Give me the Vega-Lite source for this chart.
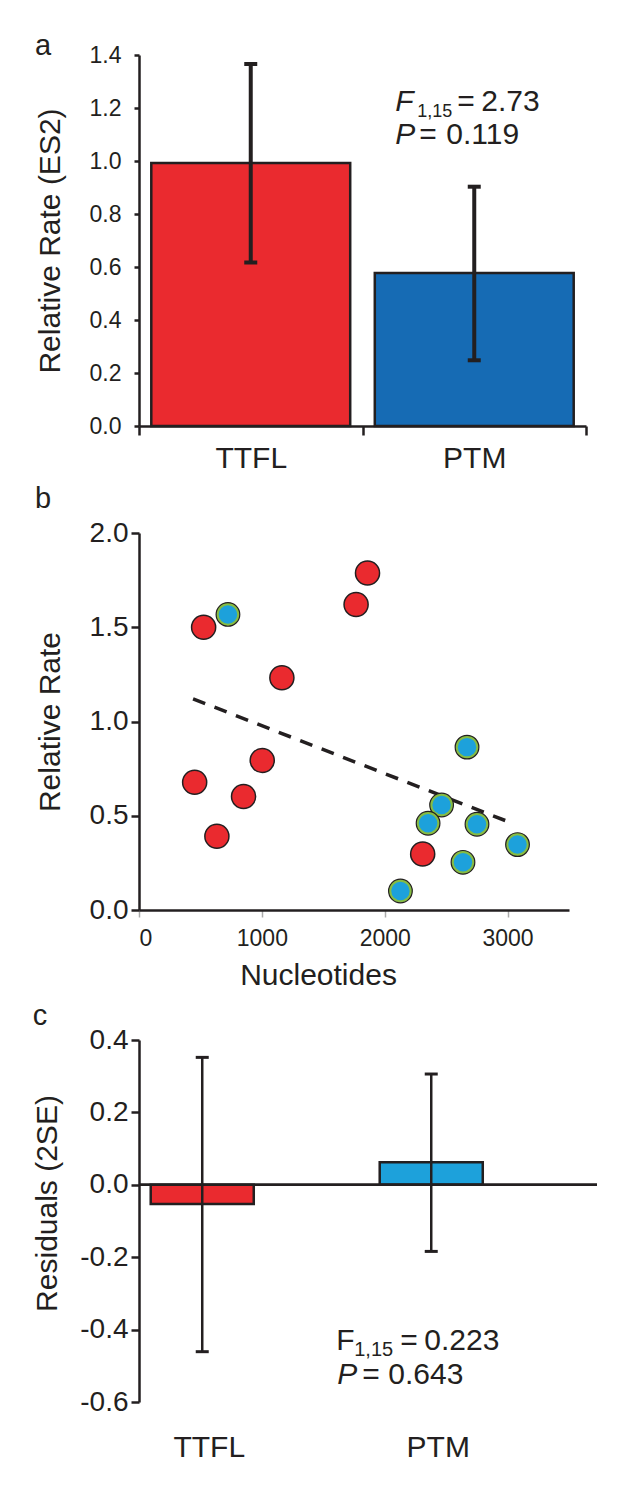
{
  "$schema": "https://vega.github.io/schema/vega-lite/v6.json",
  "background": "white",
  "padding": {"left": 32, "top": 32, "right": 0, "bottom": 0},
  "config": {
    "font": "Liberation Sans",
    "view": {"stroke": null},
    "axis": {"grid": false, "domainColor": "#231f20", "tickColor": "#231f20", "labelColor": "#231f20", "titleColor": "#231f20", "titleFontWeight": "normal", "domainWidth": 2.5, "tickWidth": 2.5},
    "title": {"fontWeight": "normal", "color": "#231f20"}
  },
  "datasets": {
    "rates": [
      {"group": "TTFL", "rate": 0.992, "lower": 0.617, "upper": 1.366},
      {"group": "PTM", "rate": 0.577, "lower": 0.248, "upper": 0.903}
    ],
    "points": [
      {"nucleotides": 526, "rate": 1.50, "group": "TTFL"},
      {"nucleotides": 1163, "rate": 1.232, "group": "TTFL"},
      {"nucleotides": 1767, "rate": 1.621, "group": "TTFL"},
      {"nucleotides": 1860, "rate": 1.788, "group": "TTFL"},
      {"nucleotides": 453, "rate": 0.678, "group": "TTFL"},
      {"nucleotides": 1003, "rate": 0.793, "group": "TTFL"},
      {"nucleotides": 851, "rate": 0.602, "group": "TTFL"},
      {"nucleotides": 634, "rate": 0.391, "group": "TTFL"},
      {"nucleotides": 2309, "rate": 0.297, "group": "TTFL"},
      {"nucleotides": 724, "rate": 1.568, "group": "PTM"},
      {"nucleotides": 2670, "rate": 0.864, "group": "PTM"},
      {"nucleotides": 2463, "rate": 0.557, "group": "PTM"},
      {"nucleotides": 2353, "rate": 0.460, "group": "PTM"},
      {"nucleotides": 2751, "rate": 0.455, "group": "PTM"},
      {"nucleotides": 3081, "rate": 0.347, "group": "PTM"},
      {"nucleotides": 2637, "rate": 0.253, "group": "PTM"},
      {"nucleotides": 2128, "rate": 0.101, "group": "PTM"}
    ],
    "fit": [
      {"nucleotides": 440, "rate": 1.12},
      {"nucleotides": 3031, "rate": 0.462}
    ],
    "residuals": [
      {"group": "TTFL", "resid": -0.053, "lower": -0.461, "upper": 0.352},
      {"group": "PTM", "resid": 0.062, "lower": -0.184, "upper": 0.306}
    ]
  },
  "resolve": {"scale": {"color": "independent"}},
  "spacing": 12,
  "vconcat": [
    {
      "width": 447,
      "height": 371,
      "title": {"text": "a", "anchor": "start", "frame": "bounds", "fontSize": 29, "offset": -17},
      "data": {"name": "rates"},
      "encoding": {
        "x": {"field": "group", "type": "nominal", "sort": ["TTFL", "PTM"],
          "scale": {"paddingInner": 0, "paddingOuter": 0},
          "axis": {"title": null, "labelAngle": 0, "tickBand": "extent", "tickSize": 9, "labelFontSize": 30, "labelPadding": 8}}
      },
      "layer": [
        {
          "mark": {"type": "bar", "width": {"band": 0.89}, "stroke": "#231f20", "strokeWidth": 2.5},
          "encoding": {
            "y": {"field": "rate", "type": "quantitative", "scale": {"domain": [0, 1.4], "nice": false},
              "axis": {"title": "Relative Rate (ES2)", "values": [0, 0.2, 0.4, 0.6, 0.8, 1.0, 1.2, 1.4], "format": ".1f", "tickSize": 5, "labelPadding": 13, "labelFontSize": 23, "titleFontSize": 30, "titlePadding": 24}},
            "color": {"field": "group", "type": "nominal", "scale": {"domain": ["TTFL", "PTM"], "range": ["#EA2A2F", "#166BB4"]}, "legend": null}
          }
        },
        {
          "mark": {"type": "rule", "strokeWidth": 4, "color": "#231f20"},
          "encoding": {"y": {"field": "lower", "type": "quantitative"}, "y2": {"field": "upper"}}
        },
        {
          "mark": {"type": "tick", "size": 13, "thickness": 4, "color": "#231f20", "opacity": 1},
          "encoding": {"y": {"field": "upper", "type": "quantitative"}}
        },
        {
          "mark": {"type": "tick", "size": 13, "thickness": 4, "color": "#231f20", "opacity": 1},
          "encoding": {"y": {"field": "lower", "type": "quantitative"}}
        },
        {
          "data": {"values": [{}]},
          "mark": {"type": "text", "text": "F", "fontStyle": "italic", "fontSize": 30, "align": "left", "baseline": "alphabetic", "dx": -79, "color": "#231f20"},
          "encoding": {"x": {"datum": "PTM"}, "y": {"datum": 1.19}}
        },
        {
          "data": {"values": [{}]},
          "mark": {"type": "text", "text": "1,15", "fontSize": 18, "align": "left", "baseline": "alphabetic", "dx": -57, "dy": 6, "color": "#231f20"},
          "encoding": {"x": {"datum": "PTM"}, "y": {"datum": 1.19}}
        },
        {
          "data": {"values": [{}]},
          "mark": {"type": "text", "text": "=", "fontSize": 30, "align": "left", "baseline": "alphabetic", "dx": -17, "color": "#231f20"},
          "encoding": {"x": {"datum": "PTM"}, "y": {"datum": 1.19}}
        },
        {
          "data": {"values": [{}]},
          "mark": {"type": "text", "text": "2.73", "fontSize": 30, "align": "left", "baseline": "alphabetic", "dx": 7, "color": "#231f20"},
          "encoding": {"x": {"datum": "PTM"}, "y": {"datum": 1.19}}
        },
        {
          "data": {"values": [{}]},
          "mark": {"type": "text", "text": "P", "fontStyle": "italic", "fontSize": 30, "align": "left", "baseline": "alphabetic", "dx": -79, "color": "#231f20"},
          "encoding": {"x": {"datum": "PTM"}, "y": {"datum": 1.064}}
        },
        {
          "data": {"values": [{}]},
          "mark": {"type": "text", "text": "=", "fontSize": 30, "align": "left", "baseline": "alphabetic", "dx": -55, "color": "#231f20"},
          "encoding": {"x": {"datum": "PTM"}, "y": {"datum": 1.064}}
        },
        {
          "data": {"values": [{}]},
          "mark": {"type": "text", "text": "0.119", "fontSize": 30, "align": "left", "baseline": "alphabetic", "dx": -28, "color": "#231f20"},
          "encoding": {"x": {"datum": "PTM"}, "y": {"datum": 1.064}}
        }
      ]
    },
    {
      "width": 430,
      "height": 377,
      "title": {"text": "b", "anchor": "start", "frame": "bounds", "fontSize": 29, "offset": 5},
      "encoding": {
        "x": {"field": "nucleotides", "type": "quantitative", "scale": {"domain": [0, 3500], "nice": false},
          "axis": {"title": "Nucleotides", "titleX": 179, "values": [0, 1000, 2000, 3000], "format": "d", "tickColor": "#aaaaaa", "tickWidth": 1.5, "tickSize": 7, "labelFontSize": 23, "labelPadding": 10, "titleFontSize": 30, "titlePadding": 10}},
        "y": {"field": "rate", "type": "quantitative", "scale": {"domain": [0, 2], "nice": false},
          "axis": {"title": "Relative Rate", "values": [0, 0.5, 1, 1.5, 2], "format": ".1f", "tickSize": 8, "labelPadding": 3, "labelFontSize": 28, "titleFontSize": 30, "titlePadding": 24}}
      },
      "layer": [
        {
          "data": {"name": "fit"},
          "mark": {"type": "line", "strokeDash": [13, 10], "strokeWidth": 3.5, "color": "#231f20"}
        },
        {
          "data": {"name": "points"},
          "transform": [{"filter": "datum.group == 'TTFL'"}],
          "mark": {"type": "point", "shape": "circle", "filled": true, "size": 580, "fill": "#EA2A2F", "stroke": "#231f20", "strokeWidth": 1.5, "opacity": 1}
        },
        {
          "data": {"name": "points"},
          "transform": [{"filter": "datum.group == 'PTM'"}],
          "mark": {"type": "point", "shape": "circle", "filled": true, "size": 560, "fill": "#86BC43", "stroke": "#231f20", "strokeWidth": 1.2, "opacity": 1}
        },
        {
          "data": {"name": "points"},
          "transform": [{"filter": "datum.group == 'PTM'"}],
          "mark": {"type": "point", "shape": "circle", "filled": true, "size": 340, "fill": "#1DA1DB", "opacity": 1}
        },
        {
          "data": {"values": [{}]},
          "mark": {"type": "text", "text": "r", "fontStyle": "italic", "fontSize": 30, "align": "left", "baseline": "alphabetic", "color": "#231f20"},
          "encoding": {"x": {"datum": 2203}, "y": {"datum": 1.336}}
        },
        {
          "data": {"values": [{}]},
          "mark": {"type": "text", "text": "2", "fontSize": 18, "align": "left", "baseline": "alphabetic", "color": "#231f20"},
          "encoding": {"x": {"datum": 2299}, "y": {"datum": 1.389}}
        },
        {
          "data": {"values": [{}]},
          "mark": {"type": "text", "text": "=", "fontSize": 30, "align": "left", "baseline": "alphabetic", "color": "#231f20"},
          "encoding": {"x": {"datum": 2360}, "y": {"datum": 1.336}}
        },
        {
          "data": {"values": [{}]},
          "mark": {"type": "text", "text": "0.176;", "fontSize": 30, "align": "left", "baseline": "alphabetic", "color": "#231f20"},
          "encoding": {"x": {"datum": 2620}, "y": {"datum": 1.336}}
        },
        {
          "data": {"values": [{}]},
          "mark": {"type": "text", "text": "P", "fontStyle": "italic", "fontSize": 30, "align": "left", "baseline": "alphabetic", "color": "#231f20"},
          "encoding": {"x": {"datum": 2203}, "y": {"datum": 1.159}}
        },
        {
          "data": {"values": [{}]},
          "mark": {"type": "text", "text": "=", "fontSize": 30, "align": "left", "baseline": "alphabetic", "color": "#231f20"},
          "encoding": {"x": {"datum": 2421}, "y": {"datum": 1.159}}
        },
        {
          "data": {"values": [{}]},
          "mark": {"type": "text", "text": "0.093", "fontSize": 30, "align": "left", "baseline": "alphabetic", "color": "#231f20"},
          "encoding": {"x": {"datum": 2630}, "y": {"datum": 1.159}}
        }
      ]
    },
    {
      "width": 458,
      "height": 362,
      "title": {"text": "c", "anchor": "start", "frame": "bounds", "fontSize": 29, "offset": -5},
      "data": {"name": "residuals"},
      "encoding": {
        "x": {"field": "group", "type": "nominal", "sort": ["TTFL", "PTM"],
          "scale": {"paddingInner": 0.55, "paddingOuter": 0.275, "align": 0.093},
          "axis": {"title": null, "labelAngle": 0, "domain": false, "ticks": false, "labelFontSize": 30, "labelPadding": 30, "labelOffset": 7}}
      },
      "layer": [
        {
          "mark": {"type": "bar", "stroke": "#231f20", "strokeWidth": 2.5},
          "encoding": {
            "y": {"field": "resid", "type": "quantitative", "scale": {"domain": [-0.6, 0.4], "nice": false, "zero": false},
              "axis": {"title": "Residuals (2SE)", "values": [-0.6, -0.4, -0.2, 0, 0.2, 0.4], "labelExpr": "replace(format(datum.value, '.1f'), '\u2212', '-')", "tickSize": 8, "labelPadding": 3, "labelFontSize": 28, "titleFontSize": 30, "titlePadding": 17, "titleY": 163}},
            "y2": {"datum": 0},
            "color": {"field": "group", "type": "nominal", "scale": {"domain": ["TTFL", "PTM"], "range": ["#EA2A2F", "#1DA1DB"]}, "legend": null}
          }
        },
        {
          "mark": {"type": "rule", "strokeWidth": 2.5, "color": "#231f20"},
          "encoding": {"y": {"datum": 0}, "x": null}
        },
        {
          "mark": {"type": "rule", "strokeWidth": 2.5, "color": "#231f20"},
          "encoding": {"y": {"field": "lower", "type": "quantitative"}, "y2": {"field": "upper"}}
        },
        {
          "mark": {"type": "tick", "size": 13, "thickness": 3, "color": "#231f20", "opacity": 1},
          "encoding": {"y": {"field": "upper", "type": "quantitative"}}
        },
        {
          "mark": {"type": "tick", "size": 13, "thickness": 3, "color": "#231f20", "opacity": 1},
          "encoding": {"y": {"field": "lower", "type": "quantitative"}}
        },
        {
          "data": {"values": [{}]},
          "mark": {"type": "text", "text": "F", "fontSize": 30, "align": "left", "baseline": "alphabetic", "dx": -95, "color": "#231f20"},
          "encoding": {"x": {"datum": "PTM"}, "y": {"datum": -0.456}}
        },
        {
          "data": {"values": [{}]},
          "mark": {"type": "text", "text": "1,15", "fontSize": 20, "align": "left", "baseline": "alphabetic", "dx": -77, "dy": 6, "color": "#231f20"},
          "encoding": {"x": {"datum": "PTM"}, "y": {"datum": -0.456}}
        },
        {
          "data": {"values": [{}]},
          "mark": {"type": "text", "text": "=", "fontSize": 30, "align": "left", "baseline": "alphabetic", "dx": -31, "color": "#231f20"},
          "encoding": {"x": {"datum": "PTM"}, "y": {"datum": -0.456}}
        },
        {
          "data": {"values": [{}]},
          "mark": {"type": "text", "text": "0.223", "fontSize": 30, "align": "left", "baseline": "alphabetic", "dx": -7, "color": "#231f20"},
          "encoding": {"x": {"datum": "PTM"}, "y": {"datum": -0.456}}
        },
        {
          "data": {"values": [{}]},
          "mark": {"type": "text", "text": "P", "fontStyle": "italic", "fontSize": 30, "align": "left", "baseline": "alphabetic", "dx": -94, "color": "#231f20"},
          "encoding": {"x": {"datum": "PTM"}, "y": {"datum": -0.551}}
        },
        {
          "data": {"values": [{}]},
          "mark": {"type": "text", "text": "=", "fontSize": 30, "align": "left", "baseline": "alphabetic", "dx": -69, "color": "#231f20"},
          "encoding": {"x": {"datum": "PTM"}, "y": {"datum": -0.551}}
        },
        {
          "data": {"values": [{}]},
          "mark": {"type": "text", "text": "0.643", "fontSize": 30, "align": "left", "baseline": "alphabetic", "dx": -43, "color": "#231f20"},
          "encoding": {"x": {"datum": "PTM"}, "y": {"datum": -0.551}}
        }
      ]
    }
  ]
}
